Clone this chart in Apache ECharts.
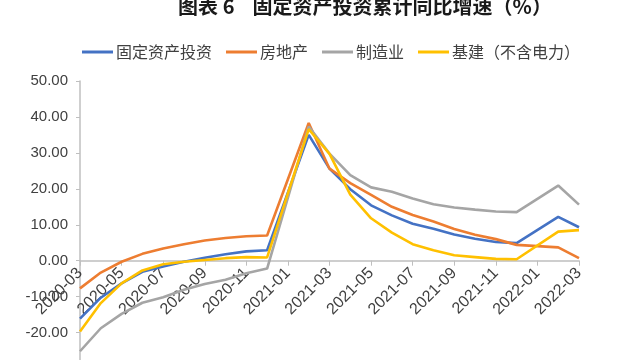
<!DOCTYPE html>
<html>
<head>
<meta charset="utf-8">
<script src="https://cdn.jsdelivr.net/npm/echarts@6/dist/echarts.min.js"></script>
<style>
html,body{margin:0;padding:0;background:#fff;overflow:hidden;}
#c{width:625px;height:360px;}
</style>
</head>
<body>
<div id="c"></div>
<script>
var categories = ['2020-03','2020-04','2020-05','2020-06','2020-07','2020-08','2020-09','2020-10','2020-11','2020-12',
  '2021-01','2021-02','2021-03','2021-04','2021-05','2021-06','2021-07','2021-08','2021-09','2021-10','2021-11','2021-12',
  '2022-01','2022-02','2022-03'];
var fai = [-16.1,-10.3,-6.3,-3.1,-1.6,-0.3,0.8,1.8,2.6,2.9, null,35.0,25.6,19.9,15.4,12.6,10.3,8.9,7.3,6.1,5.2,4.9, null,12.2,9.3];
var realEstate = [-7.7,-3.3,-0.3,1.9,3.4,4.6,5.6,6.3,6.8,7.0, null,38.3,25.6,21.6,18.3,15.0,12.7,10.9,8.8,7.2,6.0,4.4, null,3.7,0.7];
var manufacturing = [-25.2,-18.8,-14.8,-11.7,-10.2,-8.1,-6.5,-5.3,-3.5,-2.2, null,37.3,29.8,23.8,20.4,19.2,17.3,15.7,14.8,14.2,13.7,13.5, null,20.9,15.6];
var infra = [-19.7,-11.8,-6.3,-2.7,-1.0,-0.3,0.2,0.7,1.0,0.9, null,36.6,29.7,18.4,11.8,7.8,4.6,2.9,1.5,1.0,0.5,0.4, null,8.1,8.5];
var seriesNames = ['固定资产投资','房地产','制造业','基建（不含电力）'];
var seriesColors = ['#4472C4','#ED7D31','#A5A5A5','#FFC000'];
var seriesData = [fai, realEstate, manufacturing, infra];

var chart = echarts.init(document.getElementById('c'), null, {renderer:'canvas'});
var font = '"Noto Sans CJK SC", "Liberation Sans", sans-serif';
chart.setOption({
  animation:false,
  title:{
    text:'图表 6    固定资产投资累计同比增速（%）',
    left:360, top:-9, textAlign:'center',
    textStyle:{fontSize:20, fontWeight:'bold', color:'#1a1a1a', fontFamily:font}
  },
  legend:{
    left:77, top:39,
    itemWidth:31, itemHeight:3, itemGap:14,
    icon:'rect',
    textStyle:{fontSize:16, color:'#404040', fontFamily:font, padding:[0,0,0,-2]},
    data:seriesNames
  },
  grid:{left:80, right:46, top:81, bottom:-8.5, containLabel:false, outerBoundsMode:'none'},
  xAxis:{
    type:'category', data:categories, boundaryGap:false, position:'bottom',
    offset:-107.8,
    axisLine:{onZero:false, lineStyle:{color:'#BFBFBF', width:1.5}},
    axisTick:{show:true, interval:1, length:5, lineStyle:{color:'#BFBFBF'}},
    axisLabel:{show:true, interval:1, rotate:45, fontSize:16, color:'#404040', fontFamily:'"Liberation Sans", sans-serif', margin:10,
      hideOverlap:false},
    splitLine:{show:false}
  },
  yAxis:{
    type:'value', min:-30, max:50, interval:10,
    axisLine:{show:true, lineStyle:{color:'#BFBFBF', width:1.5}},
    axisTick:{show:true, inside:false, length:4, lineStyle:{color:'#BFBFBF'}},
    axisLabel:{fontSize:15, color:'#404040', fontFamily:'"Liberation Sans", sans-serif', margin:12,
      formatter:function(v){return v.toFixed(2);}},
    splitLine:{show:false}
  },
  series: seriesNames.map(function(n,i){
    return {
      name:n, type:'line', data:seriesData[i], connectNulls:true,
      showSymbol:false, symbol:'none',
      lineStyle:{width:2.6, color:seriesColors[i]},
      itemStyle:{color:seriesColors[i]}
    };
  })
});
</script>
</body>
</html>
